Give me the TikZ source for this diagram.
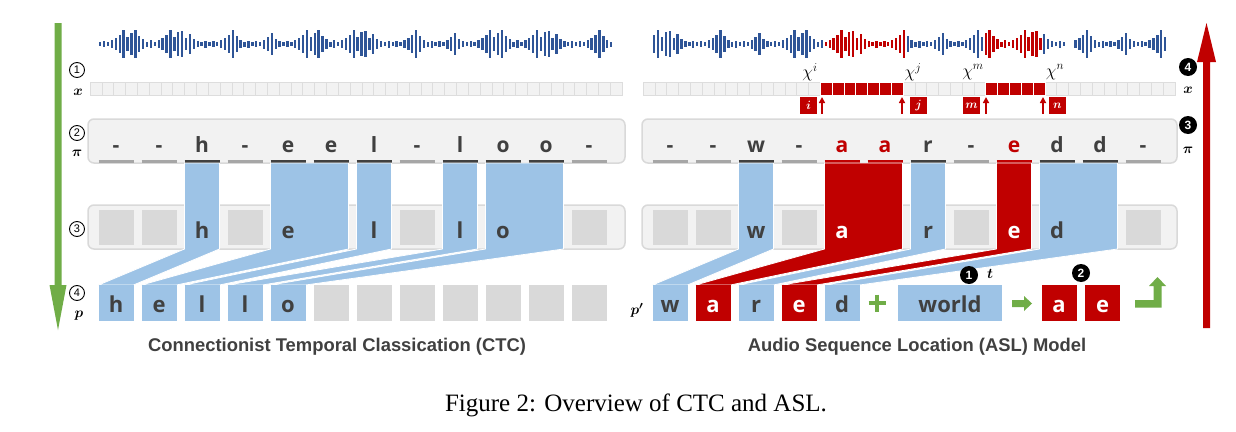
\documentclass[tikz,border=0pt]{standalone}
\usepackage{amsmath}
\usepackage{fontspec}
\setsansfont{Liberation Sans}
\newfontfamily\letfont{Open Sans}
\newfontfamily\capfont{Liberation Serif}
\usetikzlibrary{calc,arrows.meta}
\definecolor{bandblue}{HTML}{9DC3E6}
\definecolor{redc}{HTML}{C00000}
\definecolor{graysq}{HTML}{D9D9D9}
\definecolor{boxfill}{HTML}{F2F2F2}
\definecolor{boxline}{HTML}{D9D9D9}
\definecolor{txt}{HTML}{404040}
\definecolor{greenc}{HTML}{70AD47}
\definecolor{waveblue}{HTML}{2F5597}
\definecolor{cellline}{HTML}{DDDDDD}
\definecolor{dashline}{HTML}{A6A6A6}
\newcommand\drawband[5]{\filldraw[fill=#1,draw=white,line width=0.8] (#2,163) -- (#3,163) -- (#3,249) -- (#5,285) -- (#4,285) -- (#2,249) -- cycle;}
\begin{document}
\begin{tikzpicture}[x=1pt,y=-1pt,
  cell/.style={fill=boxfill,draw=cellline,line width=0.6},
  rowbox/.style={fill=boxfill,draw=boxline,line width=1.5,rounded corners=6},
  ltA/.style={font=\letfont\bfseries\fontsize{21}{21}\selectfont,text=txt,inner sep=0,anchor=base},
  ltB/.style={font=\letfont\bfseries\fontsize{22}{22}\selectfont,text=txt,inner sep=0,anchor=base},
  ltC/.style={font=\letfont\bfseries\fontsize{22}{22}\selectfont,text=txt,inner sep=0,anchor=base},
  sq/.style={minimum width=35,minimum height=36,inner sep=0,outer sep=0},
  gsq/.style={fill=graysq,minimum width=35,minimum height=35,inner sep=0,outer sep=0},
  ocirc/.style={draw=black,line width=0.9,circle,inner sep=0,minimum size=15,font=\sffamily\fontsize{11}{11}\selectfont},
  bcirc/.style={fill=black,circle,inner sep=0,minimum size=18,text=white,font=\sffamily\bfseries\fontsize{12}{12}\selectfont},
  mlab/.style={inner sep=0,font=\fontsize{15}{15}\selectfont},
  chil/.style={inner sep=0,font=\fontsize{17}{17}\selectfont},
  idx/.style={fill=redc,minimum size=17,inner sep=0,text=white,font=\fontsize{13}{13}\selectfont},
  sub/.style={font=\sffamily\bfseries\fontsize{18.4}{18.4}\selectfont,text=txt,inner sep=0}]
\useasboundingbox (0,0) rectangle (1236,431);
\fill[white] (0,0) rectangle (1236,431);
% ---------- waveforms ----------
\def\amps{{2,3,2,4,6,9,14,7,11,14,8,5,2.5,4,2,4,6,9,14,7,12,13,6,10,5,3,2,3.5,2,3,2,4,6,9,14,8,4,2.5,3.5,2,3,2,4.5,7,11,5,3}}
\foreach \i in {0,...,131}{
  \pgfmathtruncatemacro\idx{mod(\i,47)}
  \pgfmathsetmacro\hh{\amps[\idx]}
  \fill[waveblue] ({99+\i*3.9},{44-\hh}) rectangle ++(2.4,{2*\hh});
}
\foreach \i in {0,...,131}{
  \pgfmathtruncatemacro\idx{mod(\i+17,47)}
  \pgfmathsetmacro\hh{\amps[\idx]}
  \pgfmathsetmacro\xx{653+\i*3.9}
  \pgfmathtruncatemacro\isred{or(and(\xx>821,\xx<903),and(\xx>984,\xx<1042))}
  \pgfmathtruncatemacro\isgap{and(\xx>1066,\xx<1072)}
  \ifnum\isred=1 \colorlet{wc}{redc}\else\colorlet{wc}{waveblue}\fi
  \ifnum\isgap=0 \fill[wc] (\xx,{44-\hh}) rectangle ++(2.4,{2*\hh});\fi
}
% ---------- x rows ----------
\foreach \k in {0,...,44}{
  \draw[cell] ({90+\k*11.82},82) rectangle ++(11.82,13);
  \draw[cell] ({643+\k*11.82},82) rectangle ++(11.82,13);
}
\foreach \k in {15,16,17,18,19,20,21,29,30,31,32,33}{
  \filldraw[fill=redc,draw=white,line width=0.7] ({643+\k*11.82},82) rectangle ++(11.82,13);
}
% ---------- big arrows ----------
\fill[greenc] (54.5,23) -- (61.5,23) -- (61.5,285) -- (66.5,285) -- (58,330) -- (49.5,285) -- (54.5,285) -- cycle;
\fill[redc] (1203,328) -- (1210,328) -- (1210,62) -- (1216,62) -- (1206.5,23) -- (1197,62) -- (1203,62) -- cycle;
% ---------- row boxes ----------
\draw[rowbox] (88,119) rectangle (625,163);
\draw[rowbox] (642,119) rectangle (1177,163);
\draw[rowbox] (88,205) rectangle (625,249);
\draw[rowbox] (642,205) rectangle (1177,249);
% underlines
\foreach \k/\c in {0/dashline,1/dashline,2/txt,3/dashline,4/txt,5/txt,6/txt,7/dashline,8/txt,9/txt,10/txt,11/dashline}{
  \draw[\c,line width=2.5] ({116+43*\k-17.5},161.5) -- ({116+43*\k+17.5},161.5);
}
\foreach \k/\c in {0/dashline,1/dashline,2/txt,3/dashline,4/redc,5/redc,6/txt,7/dashline,8/redc,9/txt,10/txt,11/dashline}{
  \draw[\c,line width=2.5] ({670+43*\k-17.5},161.5) -- ({670+43*\k+17.5},161.5);
}
% pi letters
\foreach \c [count=\k from 0] in {-,-,h,-,e,e,l,-,l,o,o,-}{
  \node[ltA] (lpi\k) at ({116+43*\k},152.5) {\c};
}
\foreach \c/\col [count=\k from 0] in {-/txt,-/txt,w/txt,-/txt,a/redc,a/redc,r/txt,-/txt,e/redc,d/txt,d/txt,-/txt}{
  \node[ltA,text=\col] (rpi\k) at ({670+43*\k},152.5) {\c};
}
% row 3 gray squares
\foreach \k in {0,1,3,7,11}{
  \node[gsq] (lg\k) at ({116+43*\k},227.5) {};
  \node[gsq] (rg\k) at ({670+43*\k},227.5) {};
}
% ---------- bands ----------
\drawband{bandblue}{184.5}{219.5}{98.5}{133.5}
\drawband{bandblue}{270.5}{348.5}{141.5}{176.5}
\drawband{bandblue}{356.5}{391.5}{184.5}{219.5}
\drawband{bandblue}{442.5}{477.5}{227.5}{262.5}
\drawband{bandblue}{485.5}{563.5}{270.5}{305.5}
\drawband{bandblue}{738.5}{773.5}{652.5}{687.5}
\drawband{redc}{824.5}{902.5}{695.5}{730.5}
\drawband{bandblue}{910.5}{945.5}{738.5}{773.5}
\drawband{redc}{996.5}{1031.5}{781.5}{816.5}
\drawband{bandblue}{1039.5}{1117.5}{824.5}{859.5}
% row 3 letters
\node[ltB] (lm2) at (202,238) {h};
\node[ltB] (lm4) at (288,238) {e};
\node[ltB] (lm6) at (374,238) {l};
\node[ltB] (lm8) at (460,238) {l};
\node[ltB] (lm9) at (503,238) {o};
\node[ltB] (rm2) at (756,238) {w};
\node[ltB,text=white] (rm4) at (842,238) {a};
\node[ltB] (rm6) at (928,238) {r};
\node[ltB,text=white] (rm8) at (1014,238) {e};
\node[ltB] (rm9) at (1057,238) {d};
% ---------- row 4 ----------
\foreach \c [count=\k from 0] in {h,e,l,l,o}{
  \node[sq,fill=bandblue] (lb\k) at ({116+43*\k},303) {};
  \node[ltC] (lt\k) at ({116+43*\k},312) {\c};
}
\foreach \k in {5,...,11}{
  \node[sq,fill=graysq] (lb\k) at ({116+43*\k},303) {};
}
\foreach \c/\f/\t [count=\k from 0] in {w/bandblue/txt,a/redc/white,r/bandblue/txt,e/redc/white,d/bandblue/txt}{
  \node[sq,fill=\f] (rb\k) at ({670+43*\k},303) {};
  \node[ltC,text=\t] (rt\k) at ({670+43*\k},312) {\c};
}
\draw[greenc,line width=4.5] (868.5,303) -- (885.5,303);
\draw[greenc,line width=4.5] (877,294.5) -- (877,311.5);
\node[sq,fill=bandblue,minimum width=104] (world) at (950,303) {};
\node[ltC] (worldt) at (950,312) {world};
\fill[greenc] (1012,300) -- (1024,300) -- (1024,296) -- (1032,303.5) -- (1024,311) -- (1024,307) -- (1012,307) -- cycle;
\node[sq,fill=redc] (ra) at (1059,303) {};
\node[ltC,text=white] (rat) at (1059,312) {a};
\node[sq,fill=redc] (re) at (1102.5,303) {};
\node[ltC,text=white] (ret) at (1102.5,312) {e};
\fill[greenc] (1135,300) -- (1153.5,300) -- (1153.5,286) -- (1149,286) -- (1157.5,277) -- (1166,286) -- (1161.5,286) -- (1161.5,307.5) -- (1135,307.5) -- cycle;
% ---------- markers and labels ----------
\node[ocirc] (c1) at (77,70) {1};
\node[ocirc] (c2) at (77,133) {2};
\node[ocirc] (c3) at (77,229) {3};
\node[ocirc] (c4) at (77,293) {4};
\node[mlab] (lx) at (78,92) {$\boldsymbol{x}$};
\node[mlab] (lpi) at (77,153) {$\boldsymbol{\pi}$};
\node[mlab] (lp) at (79,316) {$\boldsymbol{p}$};
\node[mlab] (rp) at (637,310) {$\boldsymbol{p'}$};
\node[bcirc] (k4) at (1188,67) {4};
\node[bcirc] (k3) at (1188,125) {3};
\node[bcirc] (k1) at (969,275) {1};
\node[bcirc] (k2) at (1081,273) {2};
\node[mlab] (rx) at (1188,90) {$\boldsymbol{x}$};
\node[mlab] (rpi) at (1188,150) {$\boldsymbol{\pi}$};
\node[mlab] (tt) at (990,274) {$\boldsymbol{t}$};
\node[chil] (chi) at (810,72) {$\chi^{i}$};
\node[chil] (chj) at (913,72) {$\chi^{j}$};
\node[chil] (chm) at (973,72) {$\chi^{m}$};
\node[chil] (chn) at (1055,72) {$\chi^{n}$};
\node[idx] (bi) at (808.5,105.5) {$\boldsymbol{i}$};
\node[idx] (bj) at (918.5,105.5) {$\boldsymbol{j}$};
\node[idx] (bm) at (971.5,105.5) {$\boldsymbol{m}$};
\node[idx] (bn) at (1057.5,105.5) {$\boldsymbol{n}$};
\coordinate (ai0) at (822,114); \coordinate (ai1) at (822,97);
\coordinate (aj0) at (902,114); \coordinate (aj1) at (902,97);
\coordinate (am0) at (986,114); \coordinate (am1) at (986,97);
\coordinate (an0) at (1043,114); \coordinate (an1) at (1043,97);
\foreach \a in {i,j,m,n}{
  \draw[redc,line width=1.6,-{Triangle[width=6,length=6]}] (a\a0) -- (a\a1);
}
\node[sub] (ctc) at (337,347) {Connectionist Temporal Classication (CTC)};
\node[sub] (asl) at (917,347) {Audio Sequence Location (ASL) Model};
\node[inner sep=0,font=\capfont\fontsize{25}{25}\selectfont] (cap) at (636,405) {Figure 2: Overview of CTC and ASL.};
\end{tikzpicture}
\end{document}
